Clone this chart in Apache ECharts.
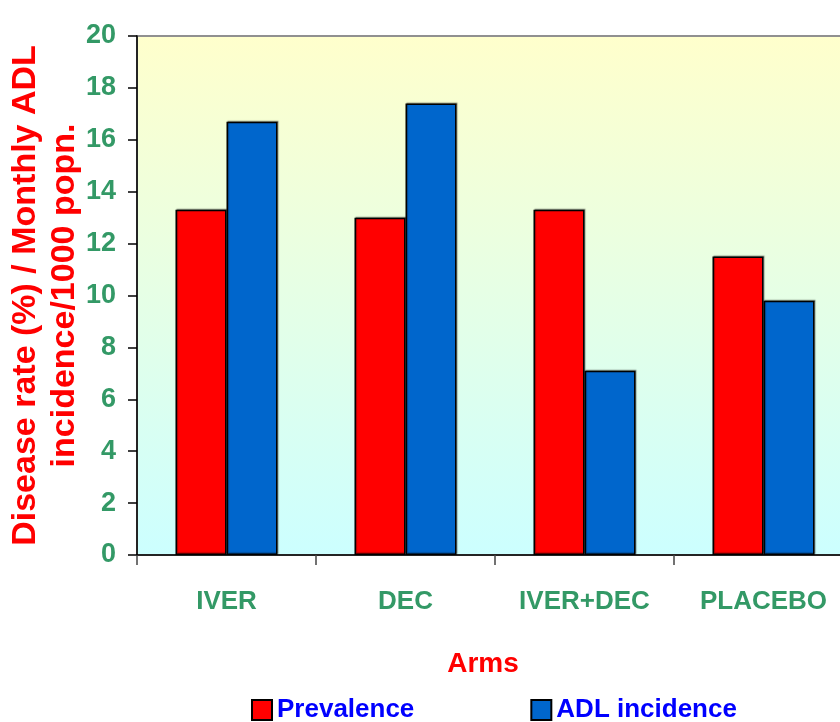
<!DOCTYPE html>
<html>
<head>
<meta charset="utf-8">
<script src="https://cdn.jsdelivr.net/npm/echarts@6/dist/echarts.min.js"></script>
<style>
  html, body { margin: 0; padding: 0; background: #ffffff; }
  #chart { width: 840px; height: 722px; }
</style>
</head>
<body>
<div id="chart"></div>
<script>
const categories = ['IVER', 'DEC', 'IVER+DEC', 'PLACEBO'];
const prevalence = [13.3, 13.0, 13.3, 11.5];
const adlIncidence = [16.7, 17.4, 7.1, 9.8];
const seriesNames = ['Prevalence', 'ADL incidence'];
const yTitle = 'Disease rate (%) / Monthly ADL\nincidence/1000 popn.';
const xTitle = 'Arms';

const chart = echarts.init(document.getElementById('chart'), null, { renderer: 'canvas' });
const green = '#339966';
const font = 'Liberation Sans, Arial, sans-serif';
const barBorder = { borderColor: '#000000', borderWidth: 1.5, shadowColor: 'rgba(0,0,0,0.35)', shadowOffsetX: 1, shadowOffsetY: -1, shadowBlur: 1 };

chart.setOption({
  animation: false,
  backgroundColor: '#ffffff',
  grid: {
    left: 137, top: 36, bottom: 167, right: -13,
    containLabel: false,
    outerBoundsMode: 'none',
    show: true,
    borderColor: '#909090', borderWidth: 2,
    backgroundColor: {
      type: 'linear', x: 0, y: 0, x2: 0, y2: 1,
      colorStops: [
        { offset: 0, color: '#FFFFCC' },
        { offset: 1, color: '#CCFFFF' }
      ]
    }
  },
  legend: {
    data: seriesNames,
    left: 246, top: 692,
    itemWidth: 20, itemHeight: 20, itemGap: 116,
    icon: 'rect',
    textStyle: { color: '#0000FF', fontSize: 26, fontWeight: 'bold', fontFamily: font }
  },
  xAxis: {
    type: 'category',
    data: categories,
    name: xTitle,
    nameLocation: 'middle',
    nameGap: 95,
    nameMoveOverlap: false,
    nameTextStyle: { color: '#FF0000', fontSize: 28, fontWeight: 'bold', fontFamily: font, padding: [0, 24, 0, 0] },
    axisLine: { lineStyle: { color: '#000000', width: 1.5 } },
    axisTick: { show: true, length: 10, lineStyle: { color: '#444444', width: 1.5 } },
    axisLabel: { interval: 0, color: green, fontSize: 26, fontWeight: 'bold', fontFamily: font, margin: 34 },
    splitLine: { show: false }
  },
  yAxis: {
    type: 'value',
    min: 0, max: 20, interval: 2,
    name: yTitle,
    nameLocation: 'middle',
    nameRotate: 90,
    nameGap: 53,
    nameMoveOverlap: false,
    nameTextStyle: { color: '#FF0000', fontSize: 34, fontWeight: 'bold', lineHeight: 39, fontFamily: font },
    axisLine: { show: true, lineStyle: { color: '#000000', width: 1.5 } },
    axisTick: { show: true, inside: false, length: 9, lineStyle: { color: '#000000', width: 1.5 } },
    axisLabel: { color: green, fontSize: 27, fontWeight: 'bold', fontFamily: font, margin: 21 },
    splitLine: { show: false }
  },
  series: [
    {
      name: seriesNames[0], type: 'bar', data: prevalence,
      barGap: '0%', barCategoryGap: '43%',
      itemStyle: Object.assign({ color: '#FF0000' }, barBorder)
    },
    {
      name: seriesNames[1], type: 'bar', data: adlIncidence,
      barGap: '0%', barCategoryGap: '43%',
      itemStyle: Object.assign({ color: '#0066CC' }, barBorder)
    }
  ]
});
</script>
</body>
</html>
